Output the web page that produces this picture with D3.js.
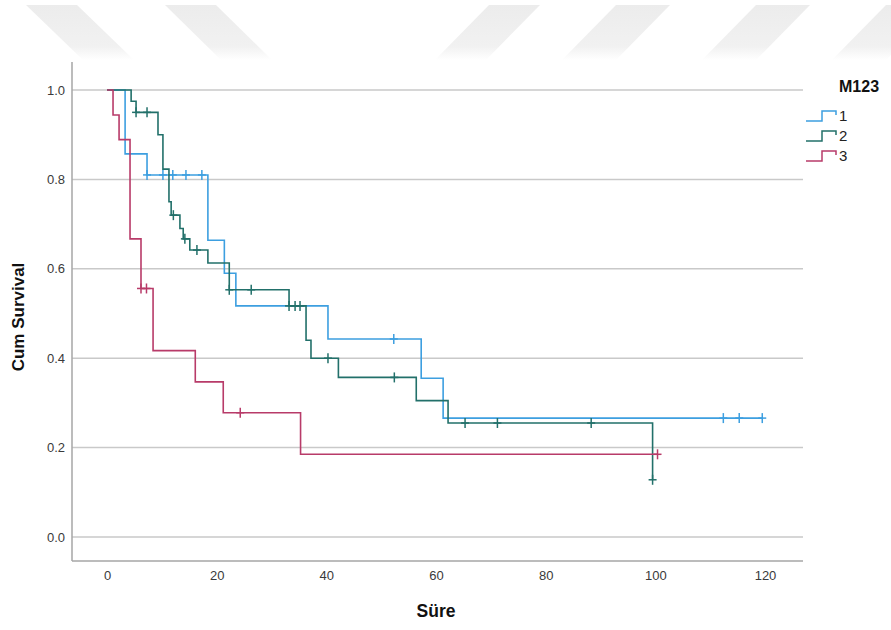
<!DOCTYPE html>
<html>
<head>
<meta charset="utf-8">
<script src="https://cdn.jsdelivr.net/npm/d3@7/dist/d3.min.js"></script>
<style>
  html, body { margin: 0; padding: 0; background: #fff; }
  svg { display: block; font-family: "Liberation Sans", Arial, sans-serif; }
</style>
</head>
<body>
<svg id="chart" width="891" height="630"></svg>
<script>
// ---------------- DATA ----------------
const legendTitle = "M123";
const groupNames = ["1", "2", "3"];
const groupColors = ["#3d9fe0", "#22706a", "#b83b69"];

// group 1
const times1 = [0, 3.3, 7.3, 18.4, 21.4, 23.5, 40.3, 57.3, 61.3];
const surv1  = [1.0, 0.857, 0.810, 0.664, 0.590, 0.517, 0.443, 0.355, 0.266];
const censor1 = [7.3, 10.2, 12.0, 14.4, 17.3, 52.3, 112.4, 115.3, 119.5];
const end1 = 119.5;

// group 2
const times2 = [0, 4.4, 5.3, 9.3, 10.2, 11.3, 11.7, 13.3, 13.9, 15.1, 18.4, 22.3, 33.2, 36.3, 37.2, 42.2, 56.4, 62.2, 99.5];
const surv2  = [1.0, 0.975, 0.95, 0.90, 0.823, 0.75, 0.72, 0.69, 0.667, 0.642, 0.613, 0.553, 0.517, 0.44, 0.40, 0.357, 0.305, 0.255, 0.128];
const censor2 = [5.3, 7.3, 12.1, 14.2, 16.4, 22.3, 26.3, 33.2, 34.3, 35.2, 40.3, 52.4, 65.3, 71.2, 88.3, 99.5];
const end2 = 99.5;

// group 3
const times3 = [0, 1.1, 2.2, 4.2, 6.2, 8.4, 16.1, 21.2, 35.3];
const surv3  = [1.0, 0.944, 0.889, 0.667, 0.556, 0.417, 0.347, 0.278, 0.185];
const censor3 = [6.2, 7.2, 24.3, 100.4];
const end3 = 100.4;

const xTicks = [0, 20, 40, 60, 80, 100, 120];
const yTicks = [0.0, 0.2, 0.4, 0.6, 0.8, 1.0];
const xTitle = "Süre";
const yTitle = "Cum Survival";

// ---------------- LAYOUT ----------------
const svg = d3.select("#chart");
const plot = { left: 72, right: 803, top: 62, bottom: 561 };

const x = d3.scaleLinear().domain([0, 120]).range([107, 765]);
const y = d3.scaleLinear().domain([0, 1]).range([537, 90]);

// watermark stripes (decoration)
const defs = svg.append("defs");
const grad = defs.append("linearGradient").attr("id", "wm").attr("x1", 0).attr("y1", 0).attr("x2", 0).attr("y2", 1);
grad.append("stop").attr("offset", "0%").attr("stop-color", "#ececec");
grad.append("stop").attr("offset", "75%").attr("stop-color", "#f1f1f1");
grad.append("stop").attr("offset", "100%").attr("stop-color", "#ffffff");
const stripes = [
  [[26,5],[77,5],[134,60],[83,60]],
  [[165,5],[216,5],[272,60],[221,60]],
  [[489,5],[540,5],[486,60],[435,60]],
  [[616,5],[670,5],[616,60],[562,60]],
  [[756,5],[810,5],[756,60],[702,60]],
  [[886,5],[940,5],[886,60],[832,60]]
];
svg.append("g").selectAll("polygon").data(stripes).join("polygon")
  .attr("points", d => d.map(p => p.join(",")).join(" "))
  .attr("fill", "url(#wm)");

// gridlines
svg.append("g").selectAll("line").data(yTicks).join("line")
  .attr("x1", plot.left).attr("x2", plot.right)
  .attr("y1", d => y(d)).attr("y2", d => y(d))
  .attr("stroke", "#c9c9c9").attr("stroke-width", 1.5);

// axes lines
svg.append("line").attr("x1", plot.left).attr("x2", plot.left)
  .attr("y1", plot.top).attr("y2", plot.bottom)
  .attr("stroke", "#a6a6a6").attr("stroke-width", 1.5);
svg.append("line").attr("x1", plot.left).attr("x2", plot.right)
  .attr("y1", plot.bottom).attr("y2", plot.bottom)
  .attr("stroke", "#a6a6a6").attr("stroke-width", 1.5);

// y axis labels via d3 axis
const yAxis = d3.axisLeft(y).tickValues(yTicks).tickFormat(d3.format(".1f")).tickSize(0).tickPadding(7);
const gy = svg.append("g").attr("transform", `translate(${plot.left},0)`).call(yAxis);
gy.select(".domain").remove();
gy.selectAll("text").attr("font-size", 13).attr("fill", "#3a3a3a")
  .attr("font-family", "Liberation Sans, Arial, sans-serif");

const xAxis = d3.axisBottom(x).tickValues(xTicks).tickFormat(d3.format("d")).tickSize(0).tickPadding(10);
const gx = svg.append("g").attr("transform", `translate(0,${plot.bottom})`).call(xAxis);
gx.select(".domain").remove();
gx.selectAll("text").attr("font-size", 13).attr("fill", "#3a3a3a")
  .attr("font-family", "Liberation Sans, Arial, sans-serif");

// axis titles
svg.append("text").attr("x", x(60)).attr("y", 617).attr("text-anchor", "middle")
  .attr("font-size", 17.5).attr("font-weight", "bold").attr("fill", "#111").text(xTitle);
svg.append("text").attr("transform", `translate(24,${317}) rotate(-90)`).attr("text-anchor", "middle")
  .attr("font-size", 17).attr("font-weight", "bold").attr("fill", "#111").text(yTitle);

// ---------------- CURVES ----------------
const groups = [
  { times: times1, surv: surv1, censor: censor1, end: end1 },
  { times: times2, surv: surv2, censor: censor2, end: end2 },
  { times: times3, surv: surv3, censor: censor3, end: end3 }
];

function survAt(g, t) {
  let v = g.surv[0];
  for (let i = 0; i < g.times.length; i++) if (g.times[i] <= t) v = g.surv[i];
  return v;
}

const line = d3.line().x(d => x(d[0])).y(d => y(d[1])).curve(d3.curveStepAfter);

groups.forEach((g, gi) => {
  const pts = g.times.map((t, i) => [t, g.surv[i]]);
  pts.push([g.end, g.surv[g.surv.length - 1]]);
  svg.append("path").datum(pts)
    .attr("d", line)
    .attr("fill", "none")
    .attr("stroke", groupColors[gi])
    .attr("stroke-width", 1.6);
  const cg = svg.append("g").attr("stroke", groupColors[gi]).attr("stroke-width", 1.5);
  g.censor.forEach(t => {
    const cx = x(t), cy = y(survAt(g, t));
    cg.append("line").attr("x1", cx).attr("x2", cx).attr("y1", cy - 5).attr("y2", cy + 5);
    cg.append("line").attr("x1", cx - 4).attr("x2", cx + 4).attr("y1", cy).attr("y2", cy);
  });
});

// ---------------- LEGEND ----------------
svg.append("text").attr("x", 839).attr("y", 92).attr("font-size", 16).attr("font-weight", "bold")
  .attr("fill", "#111").text(legendTitle);
groupNames.forEach((name, i) => {
  const cy = 116 + i * 20;
  svg.append("path")
    .attr("d", `M806,${cy + 5} H822 V${cy - 5} H836 V${cy - 1}`)
    .attr("fill", "none").attr("stroke", groupColors[i]).attr("stroke-width", 1.5);
  svg.append("text").attr("x", 839).attr("y", cy + 5).attr("font-size", 15)
    .attr("fill", "#222").text(name);
});
</script>
</body>
</html>
